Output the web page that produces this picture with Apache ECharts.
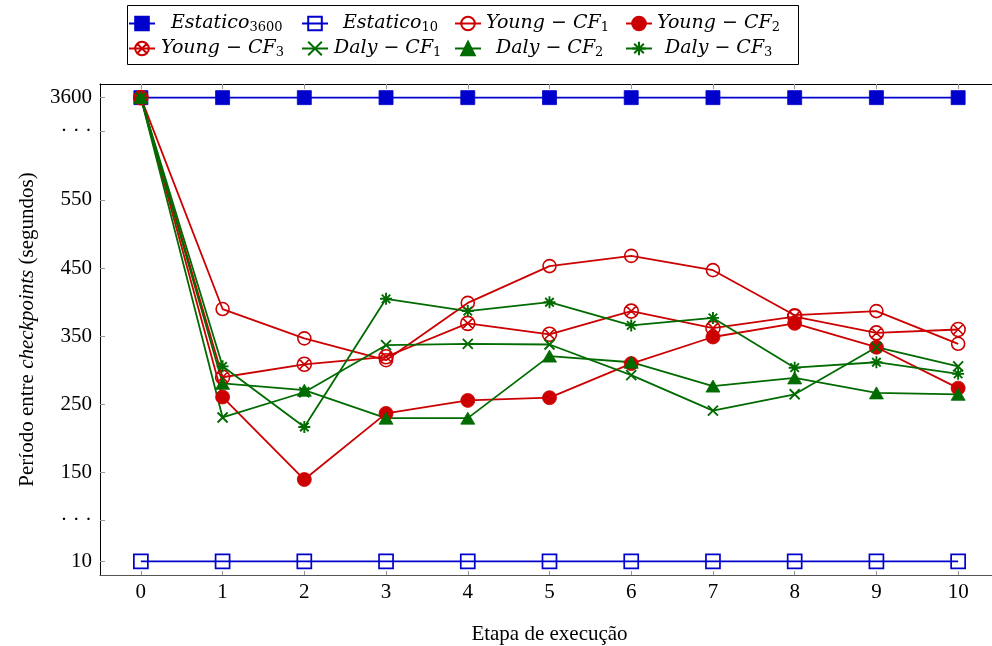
<!DOCTYPE html>
<html>
<head>
<meta charset="utf-8">
<script src="https://cdn.jsdelivr.net/npm/echarts@6/dist/echarts.min.js"></script>
<style>
  html, body { margin: 0; padding: 0; background: #fff; }
  #chart { width: 992px; height: 646px; }
</style>
</head>
<body>
<div id="chart"></div>
<script>
// Execution steps on the x axis
const steps = [0, 1, 2, 3, 4, 5, 6, 7, 8, 9, 10];

// Checkpoint interval (seconds) per strategy
const estatico3600 = [3600, 3600, 3600, 3600, 3600, 3600, 3600, 3600, 3600, 3600, 3600];
const estatico10   = [10, 10, 10, 10, 10, 10, 10, 10, 10, 10, 10];
const youngCF1 = [3600, 390, 347, 315, 399, 453, 468, 447, 381, 387, 339];
const youngCF2 = [3600, 261, 140, 237, 256, 260, 310, 349, 369, 334, 274];
const youngCF3 = [3600, 290, 309, 320, 369, 353, 387, 362, 379, 355, 360];
const dalyCF1  = [3600, 231, 268, 337, 339, 338, 293, 241, 265, 334, 306];
const dalyCF2  = [3600, 281, 271, 230, 230, 321, 312, 277, 289, 267, 265];
const dalyCF3  = [3600, 306, 217, 405, 387, 400, 366, 377, 304, 312, 295];

// Broken y axis: the two extreme values are drawn on compressed positions
const axisBreaks = { 3600: 700, 10: 20 };
const toAxis = v => (v in axisBreaks ? axisBreaks[v] : v);

// Tick positions on the compressed axis and the labels printed there
const yTickValues = [20, 80, 150, 250, 350, 450, 550, 650, 700];
const yTickLabels = ['10', '\u00b7 \u00b7 \u00b7', '150', '250', '350', '450', '550', '\u00b7 \u00b7 \u00b7', '3600'];

const SERIF = "'Liberation Serif', 'DejaVu Serif', serif";
const MATH = "'DejaVu Serif', 'Liberation Serif', serif";
const BLUE = '#0000cc';
const RED = '#cc0000';
const GREEN = '#006b00';

// Marker shapes
const SYM = {
  openSquare: 'path://M0,0L10,0L10,10L0,10Z',
  openCircle: 'path://M10,5A5,5,0,1,1,0,5A5,5,0,1,1,10,5Z',
  otimes: 'path://M10,5A5,5,0,1,1,0,5A5,5,0,1,1,10,5ZM1.46,1.46L8.54,8.54M8.54,1.46L1.46,8.54',
  cross: 'path://M0,0L10,10M10,0L0,10',
  asterisk: 'path://M5,0L5,10M0,5L10,5M1.46,1.46L8.54,8.54M8.54,1.46L1.46,8.54'
};

function makeSeries(name, values, color, symbol, size, filled, stroke) {
  return {
    name: name,
    type: 'line',
    data: values.map((v, i) => [steps[i], toAxis(v)]),
    symbol: symbol,
    symbolSize: size,
    showAllSymbol: true,
    lineStyle: { color: color, width: 1.8 },
    itemStyle: {
      color: filled ? color : 'rgba(0,0,0,0)',
      borderColor: color,
      borderWidth: stroke
    },
    emphasis: { disabled: true }
  };
}

const series = [
  makeSeries('Estatico3600', estatico3600, BLUE, 'rect', 14, true, 0.8),
  makeSeries('Estatico10', estatico10, BLUE, SYM.openSquare, 14, false, 1.7),
  makeSeries('Young-CF1', youngCF1, RED, SYM.openCircle, 13, false, 1.6),
  makeSeries('Young-CF2', youngCF2, RED, 'circle', 14, true, 0.8),
  makeSeries('Young-CF3', youngCF3, RED, SYM.otimes, 14, false, 1.6),
  makeSeries('Daly-CF1', dalyCF1, GREEN, SYM.cross, 10, false, 1.9),
  makeSeries('Daly-CF2', dalyCF2, GREEN, 'triangle', [14, 12], true, 0.8),
  makeSeries('Daly-CF3', dalyCF3, GREEN, SYM.asterisk, 12, false, 1.9)
];

// Legend labels in math style (italic with subscripts)
const legendText = {
  'Estatico3600': '{i|Estatico}{s|3600}',
  'Estatico10': '{i|Estatico}{s|10}',
  'Young-CF1': '{i|Young \u2212 CF}{s|1}',
  'Young-CF2': '{i|Young \u2212 CF}{s|2}',
  'Young-CF3': '{i|Young \u2212 CF}{s|3}',
  'Daly-CF1': '{i|Daly \u2212 CF}{s|1}',
  'Daly-CF2': '{i|Daly \u2212 CF}{s|2}',
  'Daly-CF3': '{i|Daly \u2212 CF}{s|3}'
};

// Legend cells: [name, icon left, row top, text offset]
const legendCells = [
  ['Estatico3600', 128, 14, 11],
  ['Estatico10', 301, 14, 10],
  ['Young-CF1', 454, 14, 0],
  ['Young-CF2', 625, 14, 0],
  ['Young-CF3', 128, 39, 1],
  ['Daly-CF1', 301, 39, 1],
  ['Daly-CF2', 454, 39, 10],
  ['Daly-CF3', 625, 39, 8]
];

const legends = legendCells.map(c => ({
  data: [c[0]],
  left: c[1],
  top: c[2],
  padding: 0,
  itemWidth: 26,
  itemHeight: 17,
  selectedMode: false,
  formatter: n => legendText[n],
  textStyle: {
    padding: [0, 0, 0, c[3]],
    rich: {
      i: { fontFamily: MATH, fontStyle: 'italic', fontSize: 19, lineHeight: 22, color: '#000' },
      s: { fontFamily: MATH, fontSize: 13, lineHeight: 10, verticalAlign: 'bottom', color: '#000' }
    }
  }
}));

const chart = echarts.init(document.getElementById('chart'), null, { renderer: 'canvas' });
chart.setOption({
  animation: false,
  backgroundColor: '#fff',
  graphic: [{
    type: 'rect',
    shape: { x: 127.5, y: 5.5, width: 671, height: 59 },
    style: { fill: '#fff', stroke: '#000', lineWidth: 1 },
    z: -1
  }],
  legend: legends,
  grid: { left: 100, top: 84, width: 899, height: 491, containLabel: false, outerBoundsMode: 'none' },
  xAxis: [{
    type: 'value',
    min: -0.5,
    max: 10.5,
    position: 'bottom',
    splitLine: { show: false },
    axisLine: { onZero: false, lineStyle: { color: '#555', width: 1.2 } },
    axisTick: { inside: true, length: 4, customValues: steps, lineStyle: { color: '#999' } },
    axisLabel: { customValues: steps, fontFamily: SERIF, fontSize: 21, color: '#000', margin: 7 },
    name: 'Etapa de execução',
    nameLocation: 'middle',
    nameGap: 49,
    nameTextStyle: { fontFamily: SERIF, fontSize: 21, color: '#000' }
  }, {
    type: 'value',
    min: -0.5,
    max: 10.5,
    position: 'top',
    splitLine: { show: false },
    axisLine: { onZero: false, lineStyle: { color: '#000', width: 1 } },
    axisTick: { inside: true, length: 5, customValues: steps, lineStyle: { color: '#999' } },
    axisLabel: { show: false }
  }],
  yAxis: {
    type: 'value',
    min: 0,
    max: 720,
    position: 'left',
    splitLine: { show: false },
    axisLine: { show: true, onZero: false, lineStyle: { color: '#000', width: 1 } },
    axisTick: { show: true, inside: true, length: 5, customValues: yTickValues, lineStyle: { color: '#999' } },
    axisLabel: {
      customValues: yTickValues,
      formatter: v => yTickLabels[yTickValues.indexOf(v)],
      fontFamily: SERIF, fontSize: 21, color: '#000', margin: 8,
      padding: [4, 0, 0, 0]
    },
    name: '{a|Período entre }{b|checkpoints}{a| (segundos)}',
    nameLocation: 'middle',
    nameRotate: 90,
    nameGap: 62,
    nameTextStyle: {
      rich: {
        a: { fontFamily: SERIF, fontSize: 21, color: '#000' },
        b: { fontFamily: SERIF, fontSize: 21, fontStyle: 'italic', color: '#000' }
      }
    }
  },
  series: series
});
</script>
</body>
</html>
